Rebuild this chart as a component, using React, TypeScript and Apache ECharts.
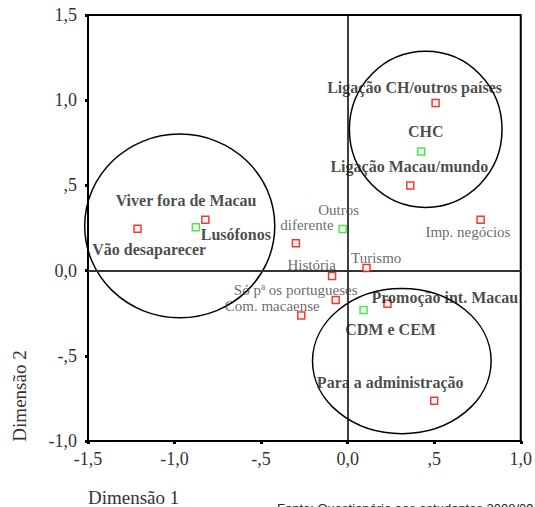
import React, { useEffect, useRef } from "react";
import * as echarts from "echarts";

// Category points (red markers)
const catNames = [
  "Ligação CH/outros países",
  "Ligação Macau/mundo",
  "Imp. negócios",
  "diferente",
  "Turismo",
  "História",
  "Só pª os portugueses",
  "Com. macaense",
  "Promoção int. Macau",
  "Para a administração",
  "Vão desaparecer",
  "Viver fora de Macau",
];
const catDim1 = [0.508, 0.362, 0.768, -0.299, 0.109, -0.09, -0.069, -0.268, 0.23, 0.5, -1.214, -0.822];
const catDim2 = [0.984, 0.499, 0.299, 0.16, 0.015, -0.032, -0.172, -0.264, -0.195, -0.764, 0.246, 0.299];

// Group points (green markers)
const grpNames = ["CHC", "Outros", "CDM e CEM", "Lusófonos"];
const grpDim1 = [0.425, -0.029, 0.092, -0.877];
const grpDim2 = [0.699, 0.244, -0.231, 0.254];

// Cluster ellipses (data units)
const ellCx = [-0.97, 0.451, 0.313];
const ellCy = [0.262, 0.829, -0.531];
const ellRx = [0.549, 0.441, 0.516];
const ellRy = [0.539, 0.458, 0.426];

const xTicks = { min: -1.5, max: 1.0, interval: 0.5 };
const yTicks = { min: -1.0, max: 1.5, interval: 0.5 };

const xTitle = "Dimensão 1";
const yTitle = "Dimensão 2";
const footer = "Fonte: Questionário aos estudantes 2008/09";

// label layout (pixel offsets relative to the marker, bold flag)
const labelLayout: Record<string, { dx: number; dy: number; bold: boolean; left?: boolean }> = {
  "Ligação CH/outros países": { dx: -21, dy: -15, bold: true },
  CHC: { dx: 4.5, dy: -20, bold: true },
  "Ligação Macau/mundo": { dx: -1, dy: -19, bold: true },
  "Imp. negócios": { dx: -12.7, dy: 12.5, bold: false },
  Outros: { dx: -4, dy: -19, bold: false },
  diferente: { dx: 11, dy: -18, bold: false },
  Turismo: { dx: 9.7, dy: -10.5, bold: false },
  "História": { dx: -20.4, dy: -11, bold: false },
  "Só pª os portugueses": { dx: -40, dy: -10, bold: false },
  "Com. macaense": { dx: -29, dy: -9.6, bold: false },
  "Promoção int. Macau": { dx: -16, dy: -6.4, bold: true, left: true },
  "CDM e CEM": { dx: 27, dy: 19.6, bold: true },
  "Para a administração": { dx: -44, dy: -18.6, bold: true },
  "Viver fora de Macau": { dx: -19.3, dy: -18.7, bold: true },
  "Lusófonos": { dx: 40, dy: 6.7, bold: true },
  "Vão desaparecer": { dx: 11.7, dy: 21.3, bold: true },
};

const SERIF = "'Liberation Serif', 'Times New Roman', serif";

const fmt = (v: number) => {
  const r = Math.round(v * 10) / 10;
  if (r === 0) return "0,0";
  const a = Math.abs(r);
  let s = a.toFixed(1).replace(".", ",");
  if (a < 1) s = s.slice(1);
  return (r < 0 ? "-" : "") + s;
};

function makePoints(names: string[], xs: number[], ys: number[]) {
  return names.map((n, i) => {
    const l = labelLayout[n];
    return {
      name: n,
      value: [xs[i], ys[i]],
      label: {
        show: true,
        formatter: n,
        position: "inside",
        align: l.left ? "left" : "center",
        verticalAlign: "middle",
        offset: [l.dx, l.dy],
        fontFamily: SERIF,
        fontSize: l.bold ? 16 : 15,
        fontWeight: l.bold ? "bold" : "normal",
        color: l.bold ? "#1a1a1a" : "#444",
      },
    };
  });
}

export default function App() {
  const ref = useRef<HTMLDivElement>(null);
  useEffect(() => {
    if (!ref.current) return;
    const chart = echarts.init(ref.current, undefined, { renderer: "svg" });
    const option: any = {
      animation: false,
      grid: {
        left: 88,
        right: 12,
        top: 15,
        bottom: 66,
        show: true,
        borderColor: "#000",
        borderWidth: 2,
        backgroundColor: "transparent",
      },
      xAxis: {
        type: "value",
        min: xTicks.min,
        max: xTicks.max,
        interval: xTicks.interval,
        axisLine: { show: true, onZero: false, lineStyle: { color: "#000", width: 2 } },
        axisTick: { show: true, length: 3, lineStyle: { color: "#000", width: 3 } },
        splitLine: { show: false },
        axisLabel: {
          formatter: fmt,
          fontFamily: SERIF,
          fontSize: 18,
          color: "#333",
          margin: 9,
        },
      },
      yAxis: {
        type: "value",
        min: yTicks.min,
        max: yTicks.max,
        interval: yTicks.interval,
        axisLine: { show: true, onZero: false, lineStyle: { color: "#000", width: 2 } },
        axisTick: { show: true, length: 3, lineStyle: { color: "#000", width: 3 } },
        splitLine: { show: false },
        axisLabel: {
          formatter: fmt,
          fontFamily: SERIF,
          fontSize: 18,
          color: "#333",
          margin: 11,
        },
      },
      series: [
        {
          type: "line",
          data: [],
          silent: true,
          markLine: {
            symbol: "none",
            silent: true,
            label: { show: false },
            data: [
              { xAxis: 0, lineStyle: { color: "#000", width: 1.5, type: "solid" } },
              { yAxis: 0, lineStyle: { color: "#333", width: 2, type: "solid" } },
            ],
          },
        },
        {
          type: "custom",
          silent: true,
          data: ellCx.map((c, i) => [c, ellCy[i], ellRx[i], ellRy[i]]),
          renderItem: (params: any, api: any) => {
            const c = api.coord([api.value(0), api.value(1)]);
            const s = api.size([api.value(2), api.value(3)]);
            return {
              type: "ellipse",
              shape: { cx: c[0], cy: c[1], rx: Math.abs(s[0]), ry: Math.abs(s[1]) },
              style: { fill: "none", stroke: "#000", lineWidth: 1.5 },
            };
          },
          z: 3,
        },
        {
          type: "scatter",
          name: "Categorias",
          symbol: "rect",
          symbolSize: 7,
          itemStyle: { color: "#fff", borderColor: "#ff0000", borderWidth: 1.5 },
          data: makePoints(catNames, catDim1, catDim2),
          z: 5,
        },
        {
          type: "scatter",
          name: "Grupos",
          symbol: "rect",
          symbolSize: 7,
          itemStyle: { color: "#fff", borderColor: "#11ee11", borderWidth: 1.5 },
          data: makePoints(grpNames, grpDim1, grpDim2),
          z: 5,
        },
      ],
      graphic: [
        {
          type: "text",
          x: 88,
          y: 497,
          style: {
            text: xTitle,
            fontFamily: SERIF,
            fontSize: 19,
            fill: "#333",
            textAlign: "left",
            textVerticalAlign: "middle",
          },
        },
        {
          type: "text",
          x: 19,
          y: 396,
          rotation: Math.PI / 2,
          style: {
            text: yTitle,
            fontFamily: SERIF,
            fontSize: 19,
            fill: "#333",
            textAlign: "center",
            textVerticalAlign: "middle",
          },
        },
        {
          type: "text",
          x: 277,
          y: 502,
          style: {
            text: footer,
            fontFamily: "'Liberation Sans', Arial, sans-serif",
            fontSize: 13,
            fill: "#222",
            textAlign: "left",
            textVerticalAlign: "top",
          },
        },
      ],
    };
    chart.setOption(option);
    return () => chart.dispose();
  }, []);
  return (
    <div
      ref={ref}
      style={{ position: "fixed", left: 0, top: 0, width: 535, height: 507, background: "#fff" }}
    />
  );
}
